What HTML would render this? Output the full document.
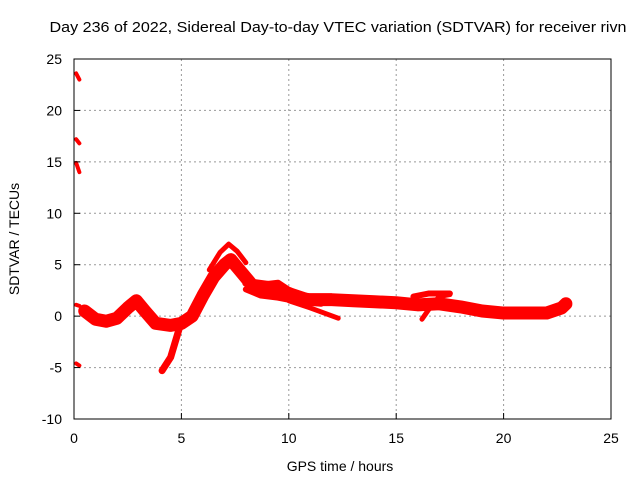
<!DOCTYPE html>
<html><head><meta charset="utf-8"><style>
body{margin:0;background:#fff;font-family:"Liberation Sans",sans-serif}
svg text{font-family:"Liberation Sans",sans-serif;font-size:14px;fill:#000}
</style></head><body>
<svg width="640" height="480">
<text x="338" y="32" text-anchor="middle" textLength="577" lengthAdjust="spacingAndGlyphs" style="font-size:15px">Day 236 of 2022, Sidereal Day-to-day VTEC variation (SDTVAR) for receiver rivn</text>
<g id="grid"></g><g id="series"></g>
<rect x="74" y="59" width="537" height="360" fill="none" stroke="#000"/>
<text x="340" y="471" text-anchor="middle">GPS time / hours</text>
<text transform="translate(19,239) rotate(-90)" text-anchor="middle">SDTVAR / TECUs</text>
</svg>
<script>
const xTicks=[0,5,10,15,20,25];
const yTicks=[-10,-5,0,5,10,15,20,25];
const mainX=[0.5,1,1.5,2,2.5,2.9,3.3,3.8,4.5,5,5.5,6,6.5,7,7.3,7.7,8.3,9,9.5,10,10.5,11,12,13,14,15,16,17,18,19,20,21,22,22.7,22.9];
const mainY=[0.5,-0.3,-0.5,-0.2,0.8,1.5,0.5,-0.7,-0.9,-0.7,0,2,3.8,5,5.5,4.5,3,2.8,2.5,2.2,1.7,1.6,1.6,1.5,1.4,1.3,1.1,1.2,0.9,0.5,0.3,0.3,0.3,0.8,1.2];
const upX=[6.3,6.8,7.2,7.6,8.0];
const upY=[4.5,6.2,7.0,6.3,5.2];
const up2X=[8.0,8.7,9.5,10,11,12];
const up2Y=[3.2,3.0,3.2,2.5,1.8,1.8];
const lowX=[8.0,8.7,9.5,10.5,11.5];
const lowY=[2.6,2.0,1.8,1.4,1.2];
const dipX=[4.1,4.5,4.9,5.3];
const dipY=[-5.3,-4,-1.2,0];
const brX=[10,11,12.3];
const brY=[1.5,0.8,-0.2];
const br2X=[16.2,16.5,17,17.5];
const br2Y=[-0.3,0.6,1.9,2.1];
const br3X=[15.8,16.5,17.5];
const br3Y=[1.9,2.2,2.2];
const dotX=[0.1,0.1,0.1,0.1,0.1];
const dotY0=[23.6,17.2,14.9,1.1,-4.6];
const dotY1=[23.0,16.8,14.0,1.0,-4.8];
const X=h=>74+h*537/25, Y=v=>59+(25-v)*360/35;
const NS="http://www.w3.org/2000/svg";
const grid=document.getElementById('grid'), ser=document.getElementById('series');
const svg=document.querySelector('svg');
function mk(tag,attrs,parent){const e=document.createElementNS(NS,tag);for(const k in attrs)e.setAttribute(k,attrs[k]);parent.appendChild(e);return e;}
xTicks.forEach(t=>{
 if(t>0&&t<25){const l=mk('line',{x1:X(t),x2:X(t),y1:59,y2:419,stroke:'#999','stroke-dasharray':'2,3'},grid);
 
 }
 const tx=mk('text',{x:X(t),y:443,'text-anchor':'middle'},svg);tx.textContent=t;
 
 
 mk('line',{x1:X(t),x2:X(t),y1:419,y2:413,stroke:'#000'},svg);
});
yTicks.forEach(t=>{
 if(t>-10&&t<25){const l=mk('line',{x1:74,x2:611,y1:Y(t),y2:Y(t),stroke:'#999','stroke-dasharray':'2,3'},grid);
 
 }
 const tx=mk('text',{x:62,y:Y(t)+5,'text-anchor':'end'},svg);tx.textContent=t;
 
 
 mk('line',{x1:74,x2:80,y1:Y(t),y2:Y(t),stroke:'#000'},svg);
});
function line(xs,ys,w,name){
 const p=mk('polyline',{points:xs.map((x,i)=>X(x)+','+Y(ys[i])).join(' '),fill:'none',stroke:'#f00','stroke-width':w,'stroke-linejoin':'round','stroke-linecap':'round'},ser);
 
 
}
line(mainX,mainY,13,'sdtvar-main-band');
line(upX,upY,5,'sdtvar-peak-arc');
line(up2X,up2Y,7,'sdtvar-upper-band');
line(lowX,lowY,6,'sdtvar-lower-band');
line(dipX,dipY,7,'sdtvar-dip');
line(brX,brY,5,'sdtvar-branch');
line(br2X,br2Y,5,'sdtvar-branch-2');
line(br3X,br3Y,6,'sdtvar-branch-3');
dotX.forEach((x,i)=>line([x,x+0.15],[dotY0[i],dotY1[i]],4,'sdtvar-start-mark'));
</script>
</body></html>
